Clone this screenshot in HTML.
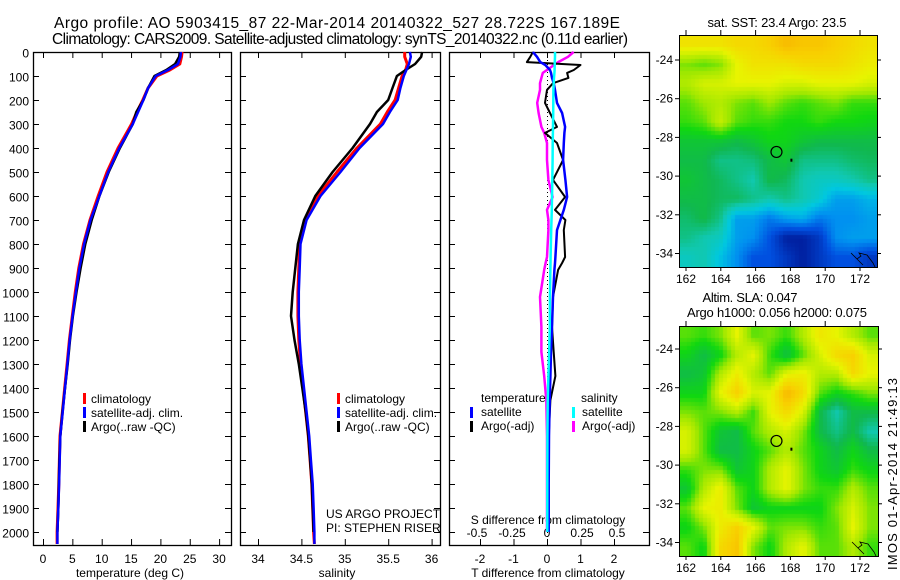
<!DOCTYPE html>
<html><head><meta charset="utf-8"><style>
body{margin:0;background:#fff;width:900px;height:580px;overflow:hidden;font-family:"Liberation Sans",sans-serif}
svg text{font-family:"Liberation Sans",sans-serif;font-size:12px;fill:#000}
svg text.big{font-size:15.5px}
svg text.mid{font-size:13px}
canvas{position:absolute}
</style></head><body>
<svg id="s" width="900" height="580" style="position:absolute;left:0;top:0">
<text class="big" x="337" y="28" text-anchor="middle" textLength="566">Argo profile: AO 5903415_87 22-Mar-2014 20140322_527 28.722S 167.189E</text>
<text class="big" x="340" y="44" text-anchor="middle" textLength="576">Climatology: CARS2009. Satellite-adjusted climatology: synTS_20140322.nc (0.11d earlier)</text>
<text class="mid" x="777" y="27" text-anchor="middle" textLength="139">sat. SST: 23.4  Argo: 23.5</text>
<text class="mid" x="750" y="302" text-anchor="middle" textLength="95">Altim. SLA: 0.047</text>
<text class="mid" x="777" y="317" text-anchor="middle" textLength="180">Argo h1000: 0.056 h2000: 0.075</text>
<text class="mid" transform="translate(897,570) rotate(-90)" textLength="192">IMOS 01-Apr-2014 21:49:13</text>
</svg>
<canvas id="m1" width="198" height="232" style="left:679px;top:35px"></canvas>
<canvas id="m2" width="199" height="230" style="left:679px;top:326px"></canvas>
<svg id="ov" width="900" height="580" style="position:absolute;left:0;top:0"></svg>
<script>
const depths=[0,20,50,75,100,150,200,250,300,400,500,600,700,800,900,1000,1100,1200,1300,1400,1500,1600,1700,1800,1900,2000,2050];
const tempClim=[23.7,23.6,23.3,21.6,19.4,17.9,17.0,16.0,15.1,12.8,10.9,9.4,8.0,6.9,6.1,5.5,5.0,4.5,4.1,3.7,3.3,2.9,2.8,2.7,2.55,2.4,2.4];
const tempSat=[23.5,23.4,23.0,21.3,19.2,17.9,17.1,16.2,15.3,13.0,11.1,9.6,8.1,7.0,6.2,5.6,5.05,4.55,4.15,3.75,3.35,2.95,2.85,2.75,2.6,2.45,2.45];
const tempArgo=[23.3,23.2,22.5,21.0,19.0,17.9,17.1,15.9,15.3,13.1,11.2,9.6,8.3,7.2,6.4,5.7,5.1,4.6,4.2,3.75,3.3,2.95,2.8,2.7,2.6,2.45];
const salClim=[35.69,35.69,35.72,35.70,35.66,35.62,35.58,35.49,35.41,35.14,34.91,34.69,34.54,34.48,34.47,34.46,34.46,34.47,34.49,34.52,34.55,34.58,34.60,34.62,34.63,34.64,34.65];
const salSat=[35.75,35.76,35.74,35.71,35.68,35.64,35.61,35.52,35.44,35.17,34.95,34.72,34.56,34.49,34.48,34.47,34.47,34.48,34.50,34.53,34.56,34.59,34.61,34.63,34.64,34.65,34.65];
const salArgo=[35.89,35.88,35.81,35.70,35.60,35.55,35.50,35.37,35.29,35.09,34.86,34.66,34.53,34.46,34.43,34.40,34.38,34.42,34.47,34.51,34.55,34.58,34.60,34.62,34.63,34.64];
const dDepths=[0,20,42,54,75,87,108,130,158,212,254,312,337,379,450,533,604,658,700,742,854,879,908,1021,1146,1250,1350,1450,1600,1800,2000];
const tDiffSat=[-0.42,-0.3,-0.2,-0.05,0.09,0.12,0.15,0.2,0.24,0.3,0.45,0.54,0.52,0.5,0.48,0.55,0.6,0.5,0.4,0.3,0.25,0.24,0.22,0.18,0.15,0.12,0.1,0.08,0.06,0.05,0.05];
const tDiffArgo=[-0.42,-0.5,-0.6,1.0,0.8,0.6,0.64,0.18,0.0,-0.06,0.09,0.3,-0.06,0.3,0.48,0.18,0.54,0.24,0.55,0.5,0.54,0.45,0.33,0.18,0.15,0.2,0.25,0.1,0.05,0.03,0.03];
const sDiffSat=[0.057,0.057,0.056,0.055,0.054,0.053,0.05,0.048,0.046,0.045,0.044,0.043,0.042,0.041,0.04,0.038,0.036,0.034,0.032,0.03,0.026,0.025,0.024,0.021,0.02,0.015,0.01,0.005,0.003,0.002,0.002];
const sDiffArgo=[0.19,0.15,0.08,0.05,0.0,-0.03,-0.04,-0.05,-0.05,-0.07,-0.06,-0.04,-0.02,0.0,0.0,0.01,0.04,0.0,0.01,0.01,0.0,-0.01,-0.02,-0.05,-0.04,-0.04,-0.02,-0.005,0.0,0.0,0.0];
const depthTicks=[0,100,200,300,400,500,600,700,800,900,1000,1100,1200,1300,1400,1500,1600,1700,1800,1900,2000];
const tempTicks=[0,5,10,15,20,25,30];
const salTicks=[34,34.5,35,35.5,36];
const tdTicks=[-2,-1,0,1,2];
const sdTicks=[-0.5,-0.25,0,0.25,0.5];
const lonTicks=[162,164,166,168,170,172];
const latTicks=[-24,-26,-28,-30,-32,-34];

const NS='http://www.w3.org/2000/svg';
const S=document.getElementById('s');
function mk(tag,attrs,parent){const e=document.createElementNS(NS,tag);for(const k in attrs)e.setAttribute(k,attrs[k]);(parent||S).appendChild(e);return e;}
const TOP=52,BOT=545;
const yD=d=>TOP+d*0.24;
const xT=t=>43+t*5.87;
const xS=s=>258+(s-34)*86.8;
const xTD=t=>547+t*33.5;
const xSD=s=>547+s*140;

function frame(x0,x1,name,xt,xf,labels){
  const r=mk('rect',{x:x0+.5,y:TOP+.5,width:x1-x0,height:BOT-TOP,fill:'none',stroke:'#000','stroke-width':1.3});
  
  depthTicks.forEach(d=>{const y=yD(d)+.5;
    const a=mk('line',{x1:x0,x2:x0+6,y1:y,y2:y,stroke:'#000'});
    const b=mk('line',{x1:x1-6,x2:x1,y1:y,y2:y,stroke:'#000'});
    if(labels){const t=mk('text',{x:x0-4,y:y+5,'text-anchor':'end'});t.textContent=d;}
  });
  xt.forEach(v=>{const x=xf(v)+.5;
    const a=mk('line',{x1:x,x2:x,y1:TOP,y2:TOP+6,stroke:'#000'});
    const b=mk('line',{x1:x,x2:x,y1:BOT-6,y2:BOT,stroke:'#000'});
  });
}
function line(xs,ds,xf,col,w,name,extra){
  const pts=xs.map((v,i)=>xf(v).toFixed(1)+','+yD(ds[i]).toFixed(1)).join(' ');
  const p=mk('polyline',Object.assign({points:pts,fill:'none',stroke:col,'stroke-width':w,'stroke-linejoin':'round'},extra||{}));
  
}
function txt(x,y,s,name,anchor){const t=mk('text',{x:x,y:y,'text-anchor':anchor||'start'});t.textContent=s;}
function legMark(x,y,col,name){const r=mk('rect',{x:x,y:y-10,width:3,height:11,fill:col});}

frame(33,231,'temperature-panel',tempTicks,xT,true);
tempTicks.forEach(v=>txt(xT(v),563,v,'temp-tick-label','middle'));
txt(130,577,'temperature (deg C)','temp-x-title','middle');
line(tempClim,depths,xT,'#f00',3,'temp-climatology-line');
line(tempArgo,depths.slice(0,tempArgo.length),xT,'#000',2.5,'temp-argo-line');
line(tempSat,depths,xT,'#00f',2.5,'temp-satellite-line');
legMark(83,403,'#f00','legend-climatology-mark');txt(91,403,'climatology','legend-climatology');
legMark(83,417,'#00f','legend-satellite-mark');txt(91,417,'satellite-adj. clim.','legend-satellite');
legMark(83,431,'#000','legend-argo-mark');txt(91,431,'Argo(..raw -QC)','legend-argo');

frame(240,440,'salinity-panel',salTicks,xS,false);
salTicks.forEach(v=>txt(xS(v),563,v,'sal-tick-label','middle'));
txt(337,577,'salinity','sal-x-title','middle');
line(salClim,depths,xS,'#f00',3,'sal-climatology-line');
line(salArgo,depths.slice(0,salArgo.length),xS,'#000',2.5,'sal-argo-line');
line(salSat,depths,xS,'#00f',2.5,'sal-satellite-line');
legMark(337,403,'#f00','legend2-climatology-mark');txt(345,403,'climatology','legend2-climatology');
legMark(337,417,'#00f','legend2-satellite-mark');txt(345,417,'satellite-adj. clim.','legend2-satellite');
legMark(337,431,'#000','legend2-argo-mark');txt(345,431,'Argo(..raw -QC)','legend2-argo');
txt(326,518,'US ARGO PROJECT','project-note');
txt(326,532,'PI: STEPHEN RISER','pi-note');

frame(449,649,'difference-panel',tdTicks,xTD,false);
tdTicks.forEach(v=>txt(xTD(v),563,v,'tdiff-tick-label','middle'));
sdTicks.forEach(v=>txt(xSD(v),537,v,'sdiff-tick-label','middle'));
txt(548,577,'T difference from climatology','tdiff-x-title','middle');
txt(548,524,'S difference from climatology','sdiff-x-title','middle');
const zl=mk('line',{x1:547.5,x2:547.5,y1:TOP,y2:yD(2050),stroke:'#000','stroke-dasharray':'1,3'});
line(sDiffArgo,dDepths,xSD,'#f0f',2.5,'sdiff-argo-line');
line(tDiffArgo,dDepths,xTD,'#000',2,'tdiff-argo-line');
line(tDiffSat,dDepths,xTD,'#00f',2.5,'tdiff-satellite-line');
line(sDiffSat,dDepths,xSD,'#0ff',2.5,'sdiff-satellite-line');
txt(481,402,'temperature','legend3-temperature-header');
legMark(470,417,'#00f','legend3-tsat-mark');txt(481,416,'satellite','legend3-tsat');
legMark(470,431,'#000','legend3-targo-mark');txt(481,430,'Argo(-adj)','legend3-targo');
txt(581,402,'salinity','legend3-salinity-header');
legMark(572,417,'#0ff','legend3-ssat-mark');txt(582,416,'satellite','legend3-ssat');
legMark(572,431,'#f0f','legend3-sargo-mark');txt(582,430,'Argo(-adj)','legend3-sargo');

const sstGrid=[
[0.76,0.76,0.76,0.78,0.78,0.8,0.84,0.82,0.82,0.8,0.78,0.76],
[0.62,0.6,0.62,0.72,0.76,0.76,0.76,0.78,0.78,0.78,0.76,0.74],
[0.66,0.7,0.7,0.72,0.72,0.72,0.7,0.7,0.72,0.72,0.72,0.7],
[0.6,0.64,0.66,0.62,0.6,0.64,0.6,0.58,0.6,0.62,0.58,0.58],
[0.58,0.6,0.68,0.6,0.58,0.58,0.56,0.56,0.58,0.56,0.56,0.55],
[0.52,0.52,0.52,0.5,0.52,0.55,0.55,0.52,0.5,0.5,0.5,0.5],
[0.5,0.5,0.45,0.45,0.46,0.5,0.52,0.45,0.45,0.45,0.47,0.48],
[0.52,0.5,0.48,0.45,0.42,0.5,0.48,0.42,0.4,0.4,0.42,0.45],
[0.5,0.5,0.48,0.48,0.45,0.42,0.45,0.42,0.38,0.3,0.3,0.33],
[0.47,0.5,0.45,0.3,0.3,0.25,0.3,0.32,0.25,0.28,0.28,0.3],
[0.45,0.42,0.4,0.3,0.28,0.2,0.1,0.1,0.15,0.28,0.3,0.3],
[0.4,0.42,0.35,0.28,0.2,0.2,0.15,0.1,0.15,0.2,0.2,0.15]];
const slaGrid=[
[0.6,0.58,0.62,0.72,0.6,0.62,0.58,0.66,0.75,0.72,0.66,0.6],
[0.55,0.5,0.55,0.66,0.72,0.58,0.5,0.6,0.7,0.78,0.8,0.7],
[0.5,0.52,0.66,0.74,0.66,0.6,0.72,0.74,0.66,0.66,0.78,0.72],
[0.55,0.55,0.72,0.8,0.7,0.72,0.85,0.78,0.6,0.55,0.58,0.62],
[0.62,0.6,0.62,0.66,0.58,0.72,0.78,0.7,0.5,0.42,0.5,0.5],
[0.7,0.6,0.52,0.5,0.6,0.66,0.7,0.62,0.5,0.45,0.5,0.42],
[0.7,0.6,0.5,0.5,0.55,0.6,0.66,0.6,0.55,0.5,0.55,0.5],
[0.58,0.62,0.62,0.52,0.55,0.66,0.72,0.62,0.55,0.52,0.58,0.55],
[0.52,0.66,0.74,0.6,0.55,0.66,0.72,0.62,0.58,0.58,0.66,0.6],
[0.6,0.72,0.74,0.62,0.52,0.55,0.55,0.55,0.55,0.62,0.7,0.62],
[0.55,0.62,0.74,0.8,0.72,0.6,0.62,0.62,0.58,0.6,0.72,0.62],
[0.6,0.55,0.78,0.82,0.62,0.55,0.66,0.72,0.6,0.6,0.66,0.58]];
const stops=[[0,[0,16,140]],[0.1,[0,32,160]],[0.2,[0,80,224]],[0.28,[0,144,240]],[0.36,[0,200,224]],[0.42,[16,200,176]],[0.49,[16,184,80]],[0.56,[16,216,16]],[0.64,[160,232,0]],[0.72,[232,244,0]],[0.8,[248,208,0]],[0.88,[248,168,0]],[1,[240,120,0]]];
function cmap(v){for(let i=1;i<stops.length;i++){if(v<=stops[i][0]){const a=stops[i-1],b=stops[i],f=(v-a[0])/(b[0]-a[0]);return a[1].map((c,k)=>Math.round(c+(b[1][k]-c)*f));}}return stops[stops.length-1][1];}
function drawMap(id,grid,blk){
  const c=document.getElementById(id),g=c.getContext('2d'),W=c.width,H=c.height,R=grid.length,C=grid[0].length;
  for(let y=0;y<H;y+=blk)for(let x=0;x<W;x+=blk){
    const gx=Math.min(C-1.001,Math.max(0,(x+blk/2)/W*C-0.5)),gy=Math.min(R-1.001,Math.max(0,(y+blk/2)/H*R-0.5));
    const i=Math.floor(gx),j=Math.floor(gy),fx=gx-i,fy=gy-j;
    const v=grid[j][i]*(1-fx)*(1-fy)+grid[j][i+1]*fx*(1-fy)+grid[j+1][i]*(1-fx)*fy+grid[j+1][i+1]*fx*fy;
    const col=cmap(v);g.fillStyle='rgb('+col+')';g.fillRect(x,y,blk,blk);
  }
}
drawMap('m1',sstGrid,4);drawMap('m2',slaGrid,4);

const O=document.getElementById('ov');
function mapAxes(x0,y0,x1,y1,latRef,name){
  const r=mk('rect',{x:x0+.5,y:y0+.5,width:x1-x0,height:y1-y0,fill:'none',stroke:'#000'},O);
  const xL=l=>686+(l-162)*17.4, yL=l=>latRef+(-24-l)*19.35;
  lonTicks.forEach(l=>{const x=xL(l);
    const a=mk('line',{x1:x,x2:x,y1:y0-5,y2:y0,stroke:'#000'},O);
    const b=mk('line',{x1:x,x2:x,y1:y1,y2:y1+4,stroke:'#000'},O);
    const t=mk('text',{x:x,y:y1+16,'text-anchor':'middle'},O);t.textContent=l;});
  latTicks.forEach(l=>{const y=yL(l);
    const a=mk('line',{x1:x0-4,x2:x0,y1:y,y2:y,stroke:'#000'},O);
    const b=mk('line',{x1:x1,x2:x1+4,y1:y,y2:y,stroke:'#000'},O);
    const t=mk('text',{x:x0-6,y:y+4,'text-anchor':'end'},O);t.textContent=l;});
  const c=mk('circle',{cx:xL(167.2),cy:yL(-28.75),r:5.5,fill:'none',stroke:'#000','stroke-width':1.2},O);
  const d=mk('rect',{x:xL(168),y:yL(-29.1),width:2,height:3,fill:'#000'},O);
  const p=mk('path',{d:`M${x1-26} ${y1-14} l6 6 l4 -3 l-2 -3 l8 2 l6 8 l2 4 M${x1-24} ${y1-12} l10 10`,fill:'none',stroke:'#000','stroke-width':0.8},O);
}
mapAxes(679,35,877,267,60,'sst-map');
mapAxes(679,326,878,556,349,'sla-map');
</script>
</body></html>
